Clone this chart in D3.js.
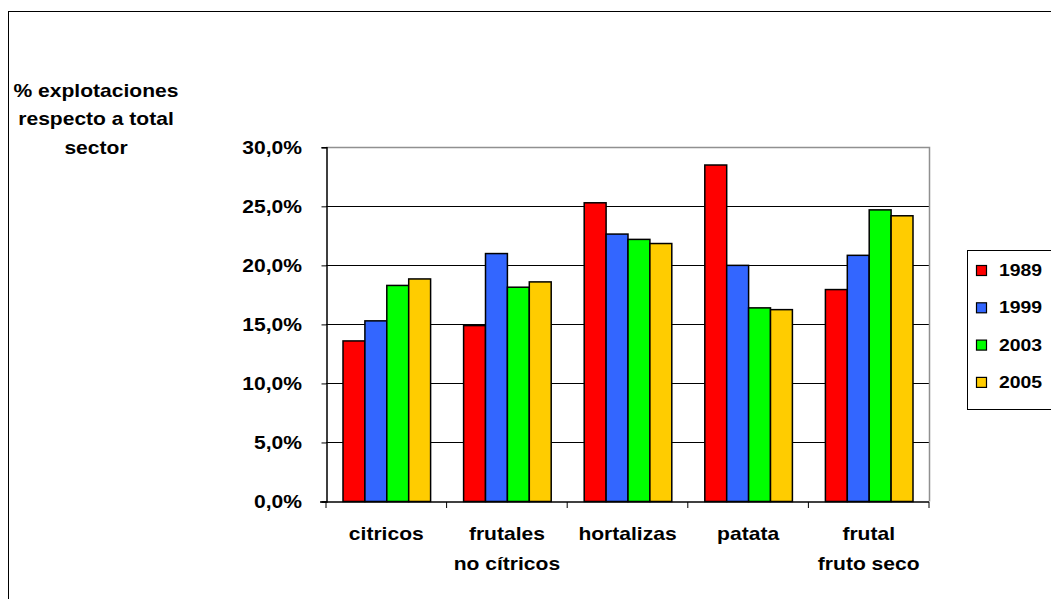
<!DOCTYPE html>
<html><head><meta charset="utf-8">
<script src="https://cdn.jsdelivr.net/npm/d3@7"></script>
<style>body{margin:0;background:#fff}svg text{font-family:"Liberation Sans",Arial,sans-serif;font-weight:bold;fill:#000}</style>
</head><body><div id="chart"></div>
<script>
const categories = [["citricos"],["frutales","no cítricos"],["hortalizas"],["patata"],["frutal","fruto seco"]];
const seriesNames = ["1989","1999","2003","2005"];
const s1989 = [13.6,14.9,25.3,28.5,17.95];
const s1999 = [15.3,21.0,22.65,20.0,20.85];
const s2003 = [18.3,18.15,22.2,16.4,24.7];
const s2005 = [18.85,18.6,21.85,16.25,24.2];
const colors = ["#FF0000","#3366FF","#00FF00","#FFCC00"];
const yTicks = [0,5,10,15,20,25,30];
const yTitle = ["% explotaciones","respecto a total","sector"];

const series = [s1989,s1999,s2003,s2005];
const W=1051,H=599;
const FS=17.7, SX=1.19;
const svg=d3.select("#chart").append("svg").attr("width",W).attr("height",H);
svg.append("rect").attr("x",8.5).attr("y",11.5).attr("width",1100).attr("height",700).attr("fill","none").attr("stroke","#000");

function label(parent,x,y,t,anchor,fs){
  return parent.append("text").attr("transform",`translate(${x},${y}) scale(${SX},1)`)
    .attr("text-anchor",anchor).style("font-size",(fs||FS)+"px").text(t);
}

const L=326,R=929,T=147.3,B=501.5;
const x=d3.scaleBand().domain(d3.range(categories.length)).range([L,R]).paddingInner(0).paddingOuter(0);
const x1=d3.scaleBand().domain(d3.range(series.length)).range([17,x.bandwidth()-16]);
const y=d3.scaleLinear().domain([0,30]).range([B,T]);

// gridlines
svg.append("g").selectAll("line").data(yTicks.filter(d=>d>0&&d<30)).join("line")
 .attr("x1",L).attr("x2",R).attr("y1",d=>Math.round(y(d))+0.5).attr("y2",d=>Math.round(y(d))+0.5).attr("stroke","#000");
svg.append("path").attr("d",`M${L},${Math.round(T)+0.5}H${R+0.5}V${B}`).attr("fill","none").attr("stroke","#909090").attr("stroke-width",1.5);

// bars
const g=svg.append("g");
categories.forEach((c,i)=>{
  series.forEach((s,j)=>{
    g.append("rect").attr("x",x(i)+x1(j)).attr("width",x1.bandwidth()).attr("y",y(s[i])).attr("height",B-y(s[i]))
     .attr("fill",colors[j]).attr("stroke","#000").attr("stroke-width",1.5);
  });
});

// y axis
const ya=svg.append("g").attr("transform",`translate(${L+0.5},0)`).call(d3.axisLeft(y).tickValues(yTicks).tickSize(5).tickFormat(""));
ya.select(".domain").attr("stroke","#000").attr("stroke-width",1.5);
const fmt=d=>d3.format(".1f")(d).replace(".",",")+"%";
yTicks.forEach(v=>label(svg,302,y(v)+6.3,fmt(v),"end"));

// x axis
const xa=svg.append("g").attr("transform",`translate(0,${B+0.5})`);
xa.append("line").attr("x1",L-6).attr("x2",R).attr("stroke","#000").attr("stroke-width",1.5);
xa.selectAll("line.t").data(d3.range(categories.length+1)).join("line").attr("class","t")
 .attr("x1",d=>L+d*x.bandwidth()).attr("x2",d=>L+d*x.bandwidth()).attr("y1",0).attr("y2",6).attr("stroke","#000");
categories.forEach((c,i)=>{
  c.forEach((t,k)=>label(svg,x(i)+x.bandwidth()/2,539.5+k*30,t,"middle"));
});

// y title
yTitle.forEach((t,k)=>label(svg,96,96.5+k*28.5,t,"middle"));

// legend
const lg=svg.append("g");
lg.append("rect").attr("x",967.5).attr("y",250.5).attr("width",100).attr("height",159).attr("fill","#fff").attr("stroke","#000");
seriesNames.forEach((n,j)=>{
  const yy=270+j*37.3;
  lg.append("rect").attr("x",976.5).attr("y",yy-4.5).attr("width",10).attr("height",10).attr("fill",colors[j]).attr("stroke","#000").attr("stroke-width",1.2);
  label(lg,999,yy+6,n,"start",16.3);
});
</script></body></html>
